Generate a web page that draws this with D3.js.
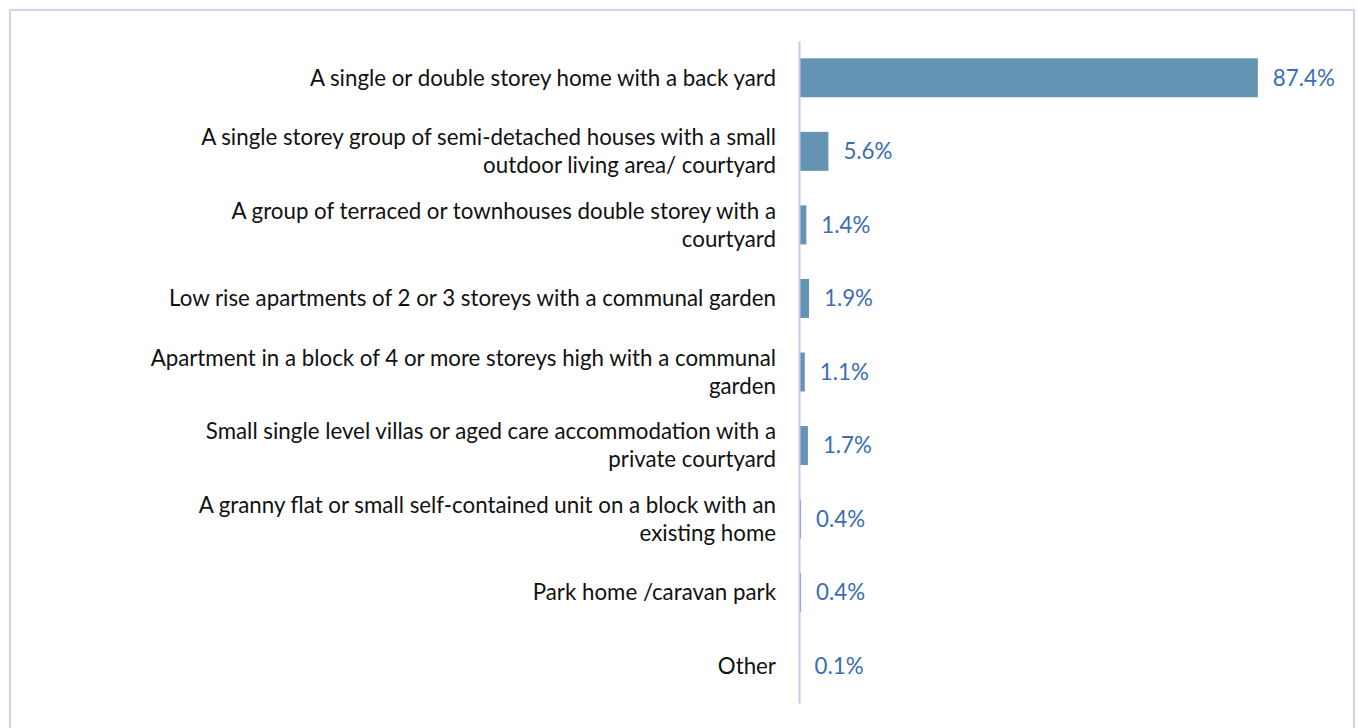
<!DOCTYPE html>
<html>
<head>
<meta charset="utf-8">
<script src="https://cdn.jsdelivr.net/npm/d3@7"></script>
<style>
	body { margin: 0; background: #fff; }
	text { font-family: Lato, "Open Sans", sans-serif; }
</style>
</head>
<body>
<svg id="chart" width="1358" height="728"></svg>
<script>
// Categories (line breaks as in the original labels)
const categories = [
	'A single or double storey home with a back yard',
	'A single storey group of semi-detached houses with a small\noutdoor living area/ courtyard',
	'A group of terraced or townhouses double storey with a\ncourtyard',
	'Low rise apartments of 2 or 3 storeys with a communal garden',
	'Apartment in a block of 4 or more storeys high with a communal\ngarden',
	'Small single level villas or aged care accommodation with a\nprivate courtyard',
	'A granny flat or small self-contained unit on a block with an\nexisting home',
	'Park home /caravan park',
	'Other'
];
const values = [87.4, 5.6, 1.4, 1.9, 1.1, 1.7, 0.4, 0.4, 0.1]; // percent

const width = 1358, height = 728;
const axisX = 799;
const fontSize = 22.3;

const svg = d3.select('#chart');

// Outer frame
svg.append('rect')
	.attr('x', 10).attr('y', 10)
	.attr('width', 1344).attr('height', height + 20)
	.attr('fill', 'none')
	.attr('stroke', '#d2d2f2')
	.attr('stroke-width', 2);

const y = d3.scaleBand()
	.domain(categories)
	.range([41, 703])
	.paddingInner(0.47)
	.paddingOuter(0.235);

const x = d3.scaleLinear()
	.domain([0, 100])
	.range([axisX, 1324]);

// Bars
svg.append('g').selectAll('rect')
	.data(values)
	.join('rect')
		.attr('x', x(0))
		.attr('y', (d, i) => y(categories[i]))
		.attr('width', d => x(d) - x(0))
		.attr('height', y.bandwidth())
		.attr('fill', '#6394b4');

// Value labels
svg.append('g').selectAll('text')
	.data(values)
	.join('text')
		.attr('x', d => x(d) + 15)
		.attr('y', (d, i) => y(categories[i]) + y.bandwidth() / 2)
		.attr('dy', '0.35em')
		.attr('font-size', fontSize)
		.attr('fill', '#3a6db3')
		.text(d => d.toFixed(1) + '%');

// Category axis (no ticks, just the line + labels)
const axis = svg.append('g')
	.attr('transform', `translate(${axisX},0)`)
	.call(d3.axisLeft(y).tickSize(0).tickPadding(23).tickFormat(''));

axis.select('.domain')
	.attr('stroke', '#c8c8f0')
	.attr('stroke-width', 2);

const lineH = 28;
axis.selectAll('.tick text').each(function(d) {
	const lines = d.split('\n');
	const t = d3.select(this)
		.attr('font-size', fontSize)
		.attr('fill', '#111')
		.attr('dy', null);
	const off = -(lines.length - 1) * lineH / 2;
	lines.forEach((line, k) => {
		t.append('tspan')
			.attr('x', -23)
			.attr('y', off + k * lineH)
			.attr('dy', '0.35em')
			.text(line);
	});
});
</script>
</body>
</html>
